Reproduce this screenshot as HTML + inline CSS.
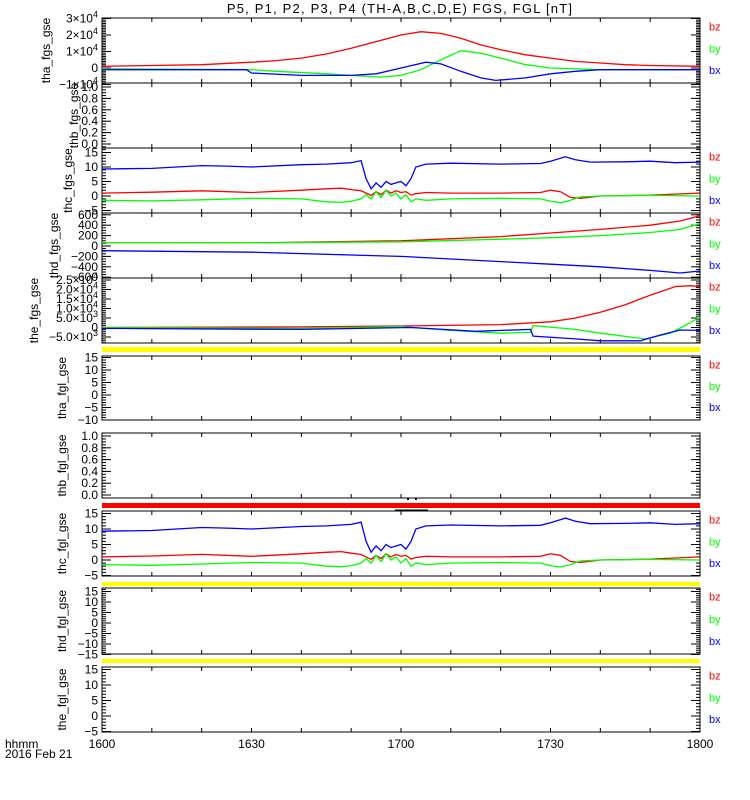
<!DOCTYPE html>
<html><head><meta charset="utf-8">
<style>
body{margin:0;background:#fff;}
svg{display:block;font-family:"Liberation Sans",sans-serif;font-size:12px;}
</style></head>
<body>
<svg id="chart" width="750" height="800" viewBox="0 0 750 800" xmlns="http://www.w3.org/2000/svg">
<text x="400" y="13" text-anchor="middle" font-size="13" letter-spacing="1.2">P5, P1, P2, P3, P4 (TH-A,B,C,D,E) FGS, FGL [nT]</text>
<g id="panels"></g>
<rect x="102" y="347" width="598" height="5" fill="#ffff00"/>
<rect x="102" y="503" width="598" height="5" fill="#ff0000"/>
<rect x="102" y="582" width="598" height="4" fill="#ffff00"/>
<rect x="102" y="659" width="598" height="4" fill="#ffff00"/>
<rect x="407" y="498" width="2" height="2" fill="#000"/>
<rect x="415" y="498" width="2" height="2" fill="#000"/>
<line x1="395" y1="510" x2="428" y2="510" stroke="#000" stroke-width="1"/>
<text x="5" y="748">hhmm</text>
<text x="5" y="758">2016 Feb 21</text>
<g id="xlabels"></g>
</svg>
<script>
const xTickLabels = ["1600","1630","1700","1730","1800"];
const xTickMinutes = [0,30,60,90,120];

// tha_fgs_gse (units 1e4 nT)
const thaFgsT = [0,10,20,30,35,40,45,50,55,60,64,68,72,76,80,85,90,95,100,105,110,120];
const thaFgsBz = [0.1,0.15,0.2,0.35,0.45,0.6,0.85,1.2,1.6,2.0,2.2,2.1,1.8,1.4,1.1,0.8,0.6,0.4,0.3,0.2,0.15,0.1];
const thaFgsByT = [0,30,35,45,50,56,60,64,68,72,76,80,85,90,100,120];
const thaFgsBy = [-0.05,-0.1,-0.2,-0.35,-0.45,-0.55,-0.45,-0.1,0.5,1.05,0.9,0.6,0.2,0.0,-0.1,-0.1];
const thaFgsBxT = [0,29,30,40,50,55,60,65,68,72,76,79,85,90,95,100,120];
const thaFgsBx = [-0.1,-0.1,-0.3,-0.45,-0.45,-0.35,0.0,0.35,0.25,-0.2,-0.6,-0.75,-0.6,-0.35,-0.2,-0.1,-0.1];

// thc_fgs_gse / thc_fgl_gse (nT)
const thcBxT = [0,10,15,20,25,30,40,45,50,52,53,54,55,56,57,58,59,60,61,62,63,65,70,80,88,90,93,95,98,105,110,115,120];
const thcBx = [9.3,9.5,10,10.5,10.3,10,10.8,11,11.5,12.2,6,2.5,4.5,3,5,4,4.5,5,3.5,6,10,11,11.3,11,11.2,12,13.5,12.5,11.7,11.8,12,11.5,11.7];
const thcT = [0,10,20,30,40,45,48,50,52,53,54,55,56,57,58,59,60,61,62,63,65,70,80,88,90,92,94,96,100,110,120];
const thcBz = [1,1.3,1.8,1.2,2,2.5,2.7,2.2,1.8,1,0.2,1.5,0.5,2,1,1.8,1.2,1.5,0.3,0.8,1.2,1,1,1.2,2,1.5,-0.5,-0.8,0,0.3,1];
const thcBy = [-1.5,-1.7,-1.3,-0.8,-1,-2,-2.2,-1.8,-1,0.5,-1,1.5,-0.5,2,0,1,-1,0.5,-2,-1,-1.5,-1,-0.8,-1,-1.8,-2.3,-1.5,-0.3,0,0.2,0];

// thd_fgs_gse (nT)
const thdT = [0,30,60,80,90,100,110,116,120];
const thdBz = [60,60,100,180,250,320,400,480,580];
const thdBy = [60,60,80,130,160,200,260,320,430];
const thdBx = [-90,-120,-200,-300,-350,-400,-470,-520,-480];

// the_fgs_gse (units 1e3 nT)
const theBzT = [0,40,60,80,90,95,100,105,110,115,118,120];
const theBz = [0,0.3,0.8,1.5,3,5,8,12,17,21.5,22,21.5];
const theByT = [0,40,60,70,80,86,86.5,95,100,109,114,117,120];
const theBy = [0,-0.5,0.5,-1.5,-3,-2.5,1,-1,-3,-6,-3,1,5.5];
const theBxT = [0,40,62,75,86,86.5,95,100,108,112,116,120];
const theBx = [-0.5,-1,0,-2,-1,-4.5,-6,-7,-7,-4,-1.3,-1.5];

const X0 = 102, X1 = 700;
function xs(t){ return X0 + t/120*(X1-X0); }

const panels = [
 {name:'tha-fgs-gse', title:'tha_fgs_gse', top:18, bot:83, zero:68, ppu:16.5, tx:50,
  ticks:[[3,'3×10','4'],[2,'2×10','4'],[1,'1×10','4'],[0,'0'],[-1,'−1×10','4']], minor:0.1, legend:true,
  series:[[thaFgsT,thaFgsBz,'#ff0000','bz'],[thaFgsByT,thaFgsBy,'#00ff00','by'],[thaFgsBxT,thaFgsBx,'#0000ff','bx']]},
 {name:'thb-fgs-gse', title:'thb_fgs_gse', top:83, bot:148, zero:144, ppu:57, tx:78,
  ticks:[[1,'1.0'],[0.8,'0.8'],[0.6,'0.6'],[0.4,'0.4'],[0.2,'0.2'],[0,'0.0']], minor:0.05, legend:false, series:[]},
 {name:'thc-fgs-gse', title:'thc_fgs_gse', top:148, bot:213, zero:196, ppu:2.9, tx:72,
  ticks:[[15,'15'],[10,'10'],[5,'5'],[0,'0'],[-5,'−5']], minor:1, legend:true,
  series:[[thcT,thcBz,'#ff0000','bz'],[thcT,thcBy,'#00ff00','by'],[thcBxT,thcBx,'#0000ff','bx']]},
 {name:'thd-fgs-gse', title:'thd_fgs_gse', top:213, bot:278, zero:246, ppu:0.052, tx:58,
  ticks:[[600,'600'],[400,'400'],[200,'200'],[0,'0'],[-200,'−200'],[-400,'−400'],[-600,'−600']], minor:50, legend:true,
  series:[[thdT,thdBz,'#ff0000','bz'],[thdT,thdBy,'#00ff00','by'],[thdT,thdBx,'#0000ff','bx']]},
 {name:'the-fgs-gse', title:'the_fgs_gse', top:278, bot:343, zero:327.5, ppu:1.9, tx:38,
  ticks:[[25,'2.5×10','4'],[20,'2.0×10','4'],[15,'1.5×10','4'],[10,'1.0×10','4'],[5,'5.0×10','3'],[0,'0'],[-5,'−5.0×10','3']], minor:1, legend:true,
  series:[[theBzT,theBz,'#ff0000','bz'],[theByT,theBy,'#00ff00','by'],[theBxT,theBx,'#0000ff','bx']]},
 {name:'tha-fgl-gse', title:'tha_fgl_gse', top:356, bot:420, zero:395, ppu:2.5, tx:66,
  ticks:[[15,'15'],[10,'10'],[5,'5'],[0,'0'],[-5,'−5'],[-10,'−10']], minor:1, legend:true, series:[]},
 {name:'thb-fgl-gse', title:'thb_fgl_gse', top:433, bot:498, zero:495, ppu:59, tx:66,
  ticks:[[1,'1.0'],[0.8,'0.8'],[0.6,'0.6'],[0.4,'0.4'],[0.2,'0.2'],[0,'0.0']], minor:0.05, legend:false, series:[]},
 {name:'thc-fgl-gse', title:'thc_fgl_gse', top:511, bot:576, zero:560, ppu:3.1, tx:66,
  ticks:[[15,'15'],[10,'10'],[5,'5'],[0,'0'],[-5,'−5']], minor:1, legend:true,
  series:[[thcT,thcBz,'#ff0000','bz'],[thcT,thcBy,'#00ff00','by'],[thcBxT,thcBx,'#0000ff','bx']]},
 {name:'thd-fgl-gse', title:'thd_fgl_gse', top:588, bot:654, zero:623, ppu:2.1, tx:66,
  ticks:[[15,'15'],[10,'10'],[5,'5'],[0,'0'],[-5,'−5'],[-10,'−10'],[-15,'−15']], minor:1, legend:true, series:[]},
 {name:'the-fgl-gse', title:'the_fgl_gse', top:667, bot:732, zero:716, ppu:3.1, tx:66,
  ticks:[[15,'15'],[10,'10'],[5,'5'],[0,'0'],[-5,'−5']], minor:1, legend:true, series:[]}
];

const NS = 'http://www.w3.org/2000/svg';
const root = document.getElementById('panels');
function mk(tag, attrs, parent){
  const e = document.createElementNS(NS, tag);
  for (const k in attrs) e.setAttribute(k, attrs[k]);
  parent.appendChild(e);
  return e;
}

panels.forEach(p => {
  const g = mk('g', {}, root);
  
  
  const ys = v => p.zero - v*p.ppu;
  const fr = mk('rect', {x:X0, y:p.top, width:X1-X0, height:p.bot-p.top, fill:'none', stroke:'#000', 'stroke-width':1}, g);
  
  
  for (let t=0; t<=120; t+=10){
    const x = xs(t);
    mk('line', {x1:x, y1:p.bot, x2:x, y2:p.bot-4, stroke:'#000'}, g);
    mk('line', {x1:x, y1:p.top, x2:x, y2:p.top+4, stroke:'#000'}, g);
  }
  const vTop = (p.zero - p.top)/p.ppu, vBot = (p.zero - p.bot)/p.ppu;
  for (let v = Math.ceil(vBot/p.minor)*p.minor; v <= vTop+1e-9; v += p.minor){
    const y = ys(v);
    mk('line', {x1:X0, y1:y, x2:X0+4, y2:y, stroke:'#000'}, g);
    mk('line', {x1:X1, y1:y, x2:X1-4, y2:y, stroke:'#000'}, g);
  }
  p.ticks.forEach(tk => {
    const y = ys(tk[0]);
    mk('line', {x1:X0, y1:y, x2:X0+9, y2:y, stroke:'#000'}, g);
    mk('line', {x1:X1, y1:y, x2:X1-9, y2:y, stroke:'#000'}, g);
    const tx = mk('text', {x:X0-4, y:y+4, 'text-anchor':'end'}, g);
    
    
    if (tk[2]) {
      tx.textContent = tk[1];
      const sp = mk('tspan', {dy:-5, 'font-size':9}, tx);
      sp.textContent = tk[2];
    } else tx.textContent = tk[1];
  });
  const cy = (p.top+p.bot)/2;
  const tt = mk('text', {x:p.tx, y:cy, 'text-anchor':'middle', transform:'rotate(-90 '+p.tx+' '+cy+')'}, g);
  
  
  tt.textContent = p.title;
  p.series.forEach(s => {
    const pts = s[0].map((t,i) => xs(t).toFixed(1)+','+ys(s[1][i]).toFixed(1)).join(' ');
    const pl = mk('polyline', {points:pts, fill:'none', stroke:s[2], 'stroke-width':1.3}, g);
    
    
  });
  if (p.legend){
    const h = p.bot-p.top;
    [['bz','#ff0000',0.13],['by','#00ff00',0.47],['bx','#0000ff',0.8]].forEach(l => {
      const lt = mk('text', {x:709, y:p.top + h*l[2] + 4, fill:l[1], 'font-size':11}, g);
      
      
      lt.textContent = l[0];
    });
  }
});

const xl = document.getElementById('xlabels');
xTickMinutes.forEach((t,i) => {
  const e = mk('text', {x:xs(t), y:748, 'text-anchor':'middle'}, xl);
  
  
  e.textContent = xTickLabels[i];
});
</script>
</body></html>
